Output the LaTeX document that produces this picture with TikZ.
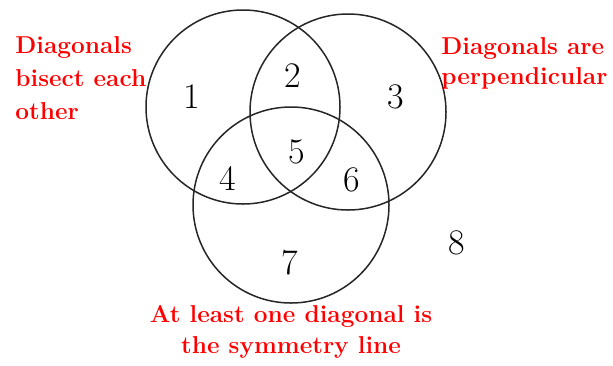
\documentclass[tikz,border=0pt]{standalone}
\usepackage{xcolor}
\definecolor{LabelRed}{RGB}{255,0,0}
\usepackage{tikz}

\begin{document}
\begin{tikzpicture}[
    x=0.5pt, y=-0.5pt,
    setcircle/.style={
        draw=black!85, line width=0.75pt
    },
    region/.style={
        inner sep=0pt, font=\fontsize{18}{20}\selectfont, text=black
    },
    setlabel/.style={
        inner sep=0pt, font=\fontsize{12.2}{16.5}\selectfont\bfseries,
        text=LabelRed
    }
]
\useasboundingbox (0,0) rectangle (613,365);

% ====== ENSEMBLES ======
\draw[setcircle] (243,107) circle (97);
\draw[setcircle] (348,112) circle (98);
\draw[setcircle] (291,205) circle (98);

% ====== REGIONS ======
\node[region] (r1) at (192,97)  {1};
\node[region] (r2) at (293,76)  {2};
\node[region] (r3) at (396,97)  {3};
\node[region] (r4) at (228,178) {4};
\node[region] (r5) at (297,152) {5};
\node[region] (r6) at (352,180) {6};
\node[region] (r7) at (290,263) {7};
\node[region] (r8) at (457,243) {8};

% ====== PROPRIETES ======
\node[setlabel, anchor=north west, align=left] (bisect) at (15,36)
    {Diagonals\\bisect each\\other};
\node[setlabel, anchor=north west, align=left] (perp) at (441,37)
    {Diagonals are\\[-1.5pt]perpendicular};
\node[setlabel, anchor=north, align=center] (symm) at (291,305)
    {At least one diagonal is\\[-1pt]the symmetry line};

\end{tikzpicture}
\end{document}
